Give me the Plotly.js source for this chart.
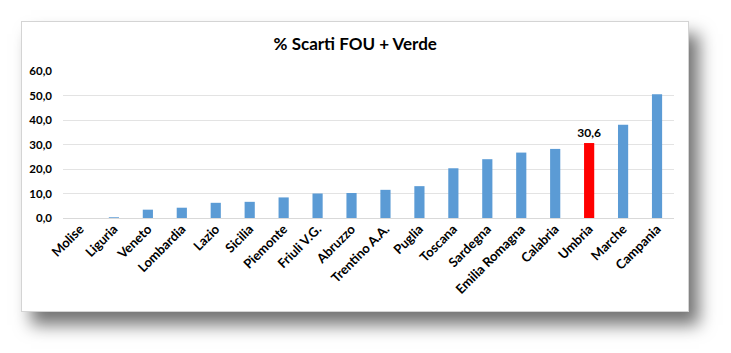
<!DOCTYPE html>
<html>
<head>
<meta charset="utf-8">
<script src="https://cdn.plot.ly/plotly-3.0.1.min.js"></script>
<style>
  html, body { margin: 0; padding: 0; background: #ffffff; width: 731px; height: 353px; overflow: hidden; }
  #frame { position: absolute; left: 21px; top: 21px; width: 666px; height: 289px;
           background: #ffffff; border: 1px solid #d4d4d4;
           box-shadow: 10px 13px 16px rgba(0,0,0,0.55); }
  #chart { position: absolute; left: 0; top: 0; width: 731px; height: 353px; }
</style>
</head>
<body>
<div id="frame"></div>
<div id="chart"></div>
<script>
const categories = ["Molise","Liguria","Veneto","Lombardia","Lazio","Sicilia","Piemonte","Friuli V.G.","Abruzzo","Trentino A.A.","Puglia","Toscana","Sardegna","Emilia Romagna","Calabria","Umbria","Marche","Campania"];
const values = [0.0, 0.3, 3.4, 4.2, 6.2, 6.6, 8.4, 10.0, 10.2, 11.5, 13.0, 20.3, 24.0, 26.7, 28.2, 30.6, 38.1, 50.5];
const highlighted = "Umbria";
const yTicks = [0, 10, 20, 30, 40, 50, 60];

const colors = categories.map(c => c === highlighted ? "#ff0000" : "#5b9bd5");
const labels = categories.map((c, i) => c === highlighted ? values[i].toFixed(1).replace(".", ",") : "");

const trace = {
  type: "bar",
  x: categories,
  y: values,
  marker: { color: colors },
  text: labels,
  textposition: "outside",
  constraintext: "none",
  cliponaxis: false,
  textfont: { family: "Lato, 'Open Sans', sans-serif", size: 12, color: "#000000", weight: "bold" },
  hoverinfo: "none"
};

const layout = {
  width: 731,
  height: 353,
  margin: { l: 63, r: 57, t: 71, b: 135, pad: 0 },
  paper_bgcolor: "rgba(0,0,0,0)",
  plot_bgcolor: "rgba(0,0,0,0)",
  separators: ",.",
  showlegend: false,
  bargap: 0.7,
  font: { family: "Lato, 'Open Sans', sans-serif", color: "#000000" },
  title: {
    text: "<b>% Scarti FOU + Verde</b>",
    font: { family: "Lato, 'Open Sans', sans-serif", size: 17, color: "#000000" },
    x: 0.486, xanchor: "center",
    y: 0.875, yanchor: "middle"
  },
  xaxis: {
    type: "category",
    tickangle: -45,
    tickfont: { family: "Lato, 'Open Sans', sans-serif", size: 13, color: "#000000", weight: "bold" },
    showgrid: false,
    showline: false,
    ticks: ""
  },
  yaxis: {
    range: [0, 60],
    tickvals: yTicks,
    tickformat: ".1f",
    tickfont: { family: "Lato, 'Open Sans', sans-serif", size: 11.5, color: "#000000", weight: "bold" },
    showgrid: true,
    gridcolor: "#e3e3e3",
    gridwidth: 1,
    zeroline: true,
    zerolinecolor: "#d9d9d9",
    zerolinewidth: 1,
    showline: false,
    ticks: "",
    ticklabelstandoff: 10
  }
};

Plotly.newPlot("chart", [trace], layout, { displayModeBar: false, staticPlot: true });
</script>
</body>
</html>
